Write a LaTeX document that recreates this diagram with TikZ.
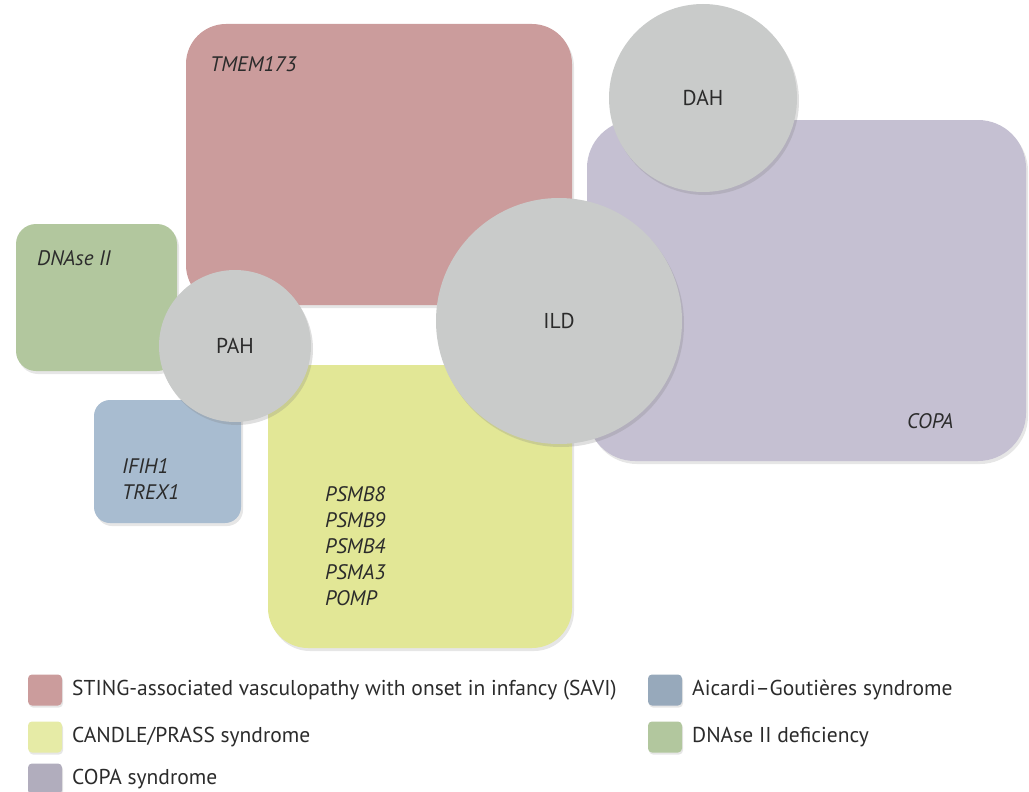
\documentclass[tikz,border=0pt]{standalone}
\usepackage{fontspec}
\setmainfont{PT Sans}
\usetikzlibrary{shadows}
\definecolor{savi}{HTML}{CB9C9C}
\definecolor{candle}{HTML}{E2E796}
\definecolor{copa}{HTML}{C5C0D2}
\definecolor{dnase}{HTML}{B2C79E}
\definecolor{ags}{HTML}{A8BCD0}
\definecolor{lung}{HTML}{C9CBCA}
\definecolor{txt}{HTML}{2B2B2B}
\tikzset{
  box/.style={draw=none, drop shadow={shadow xshift=2pt, shadow yshift=-3pt, opacity=0.2}},
  lungc/.style={circle, fill=lung, draw=none, text=txt, font=\fontsize{21.5}{24}\selectfont, drop shadow={shadow xshift=2pt, shadow yshift=-3pt, opacity=0.25}},
  gene/.style={text=txt, font=\fontsize{21}{26}\selectfont\itshape, anchor=west, align=left, inner sep=0pt},
  swatch/.style={rounded corners=4pt, minimum width=34pt, minimum height=31pt, inner sep=0pt, drop shadow={shadow xshift=1pt, shadow yshift=-2pt, opacity=0.2}},
  legtxt/.style={text=txt, font=\fontsize{21.5}{24}\selectfont, anchor=west, inner sep=0pt}
}
\begin{document}
\begin{tikzpicture}[x=1pt,y=-1pt]
\useasboundingbox (0,0) rectangle (1029,792);
% boxes
\fill[savi, box, rounded corners=40pt] (186,24) rectangle (572,305);
\fill[dnase, box, rounded corners=20pt] (16,224) rectangle (177,371);
\fill[ags, box, rounded corners=16pt] (94,400) rectangle (241,523);
\fill[candle, box, rounded corners=40pt] (268,365) rectangle (572,648);
\fill[copa, box, rounded corners=48pt] (587,120) rectangle (1026,461);
% circles
\node[lungc, minimum size=152pt] (pah) at (235,346) {PAH};
\node[lungc, minimum size=246pt] (ild) at (559,321) {ILD};
\node[lungc, minimum size=188pt] (dah) at (703,98) {DAH};
% gene labels
\node[gene] (tmem) at (210,64) {TMEM173};
\node[gene] (dnaseii) at (37,258) {DNAse II};
\node[gene] (ifih) at (122,479) {IFIH1\\TREX1};
\node[gene] (psmb) at (325,546) {PSMB8\\PSMB9\\PSMB4\\PSMA3\\POMP};
\node[gene] (copal) at (907,421) {COPA};
% legend
\node[swatch, fill=savi] (s1) at (45,690) {};
\node[legtxt] (l1) at (72,690) {STING-associated vasculopathy with onset in infancy (SAVI)};
\node[swatch, fill=candle!85!white] (s2) at (45,737) {};
\node[legtxt] (l2) at (72,737) {CANDLE/PRASS syndrome};
\node[swatch, fill=copa!90!black] (s3) at (45,779) {};
\node[legtxt] (l3) at (72,779) {COPA syndrome};
\node[swatch, fill=ags!90!black] (s4) at (665,690) {};
\node[legtxt] (l4) at (692,690) {Aicardi–Goutières syndrome};
\node[swatch, fill=dnase] (s5) at (665,737) {};
\node[legtxt] (l5) at (692,737) {DNAse II deficiency};
\end{tikzpicture}
\end{document}
